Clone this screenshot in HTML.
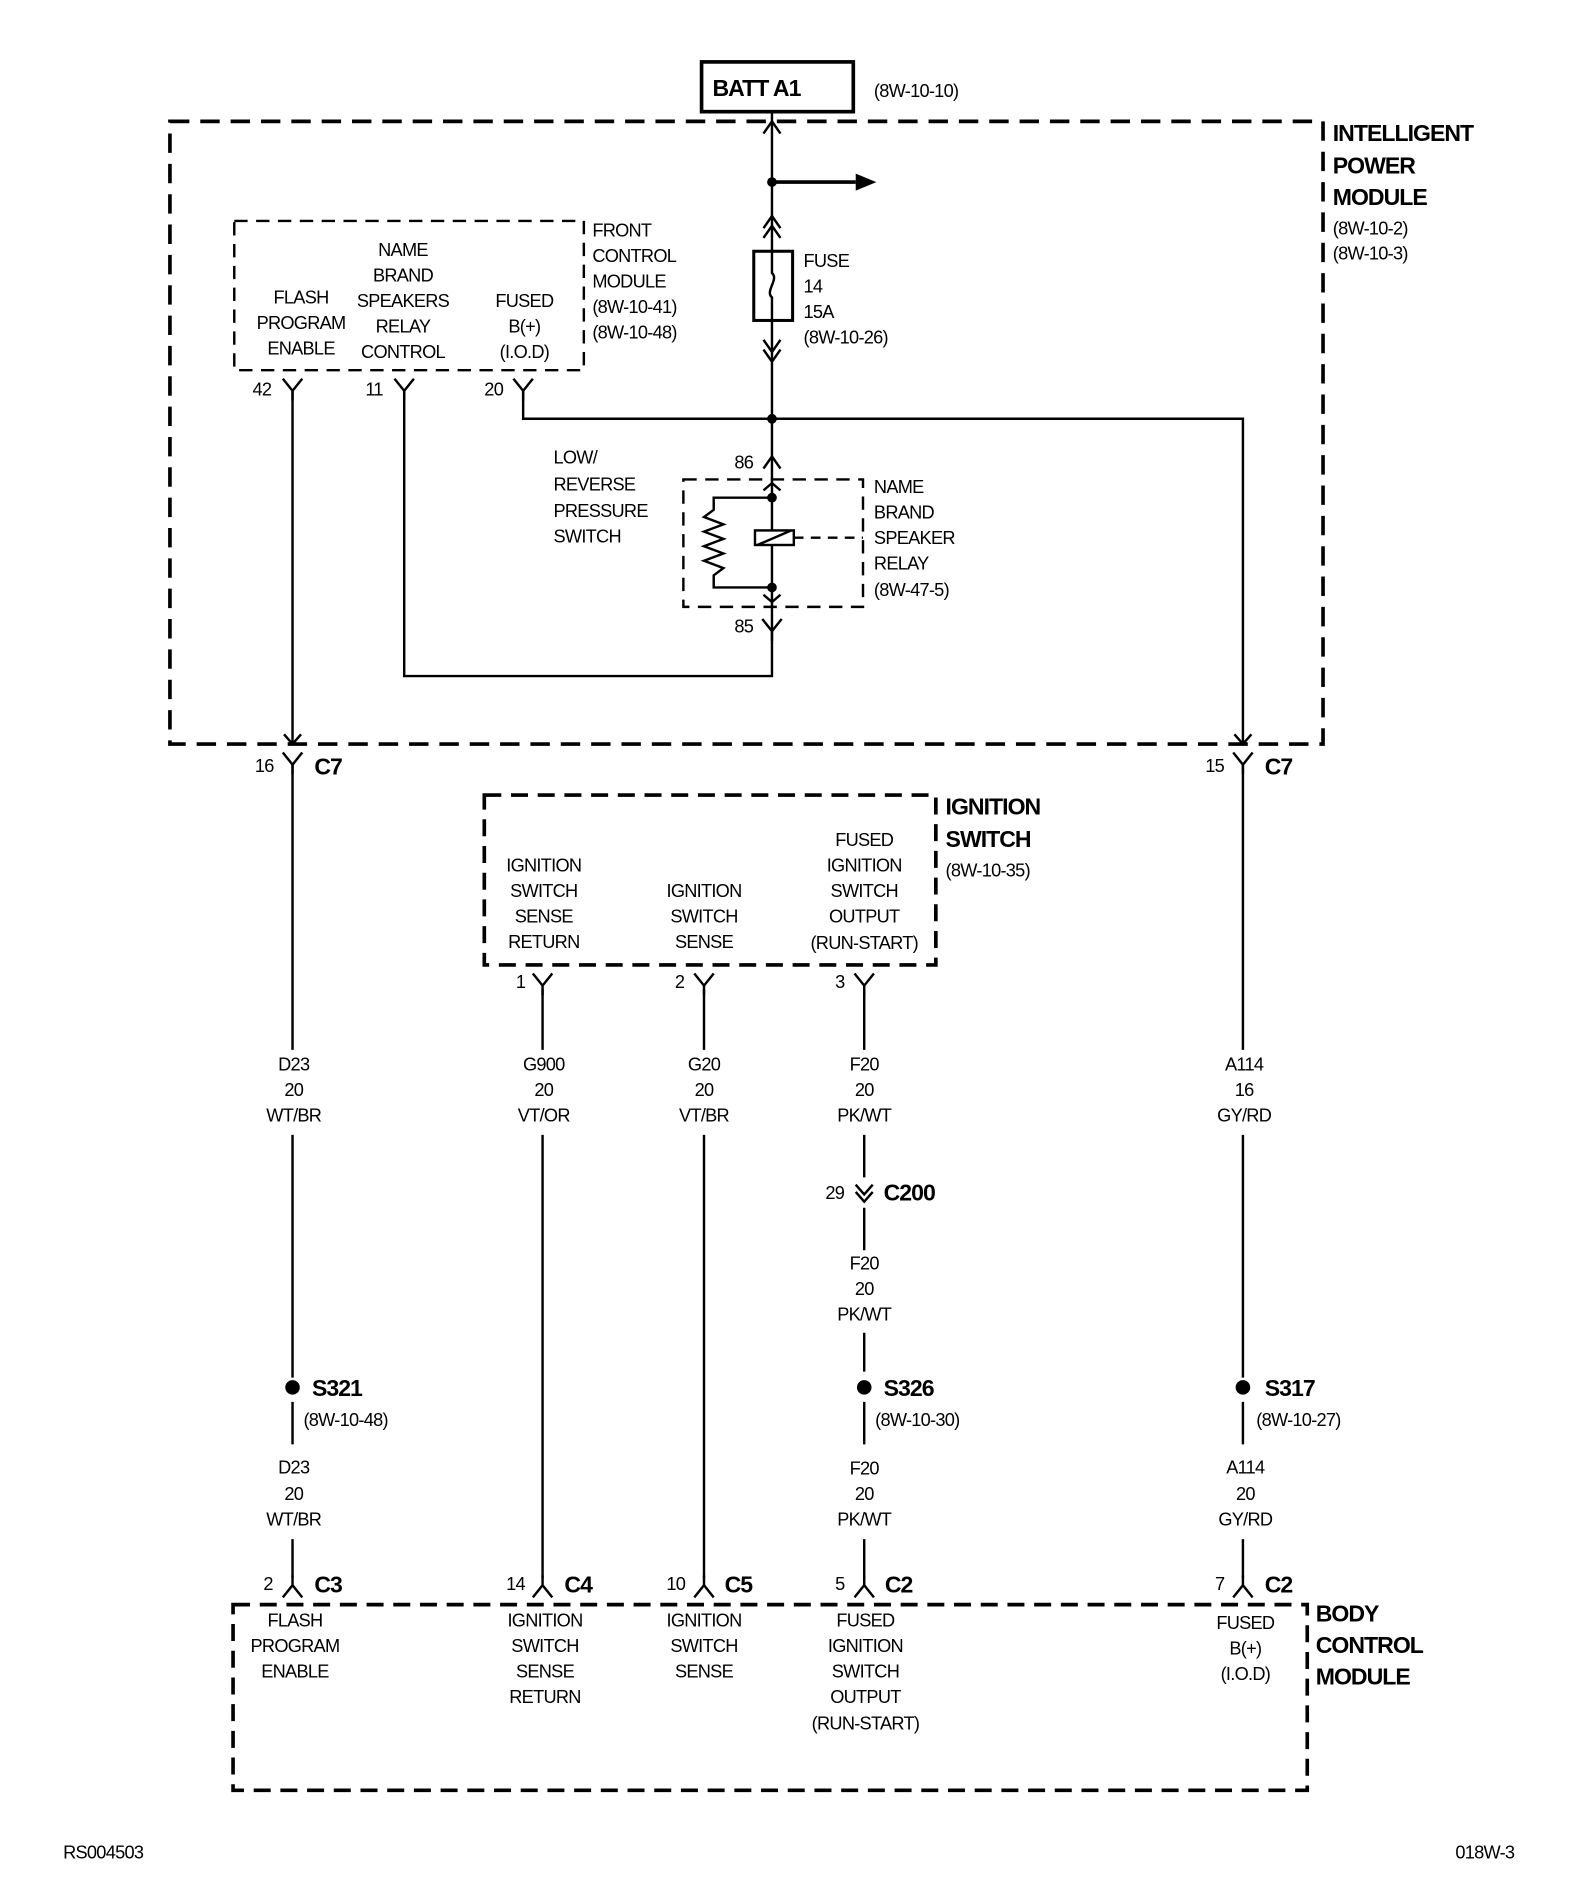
<!DOCTYPE html>
<html><head><meta charset="utf-8"><style>
html,body{margin:0;padding:0;background:#fff}
svg{display:block}
text{font-family:"Liberation Sans",sans-serif;font-size:15px;letter-spacing:-0.6px;fill:#000}
.b{font-weight:bold;font-size:19px;letter-spacing:-0.8px}
.c{text-anchor:middle}
</style></head><body>
<svg width="1584" height="1902" viewBox="0 0 1305 1567" xmlns="http://www.w3.org/2000/svg">
<defs>
<g id="Y"><path d="M-8,-6 L0,4 L8,-6 M0,4 V12" fill="none" stroke="#000" stroke-width="2"/></g>
<g id="A"><path d="M-8,6 L0,-4 L8,6 M0,-4 V-12" fill="none" stroke="#000" stroke-width="2"/></g>
</defs>
<g fill="none" stroke="#000">
<rect x="578" y="51" width="125" height="41" stroke-width="3"/>
<rect x="140" y="100" width="950" height="513" stroke-width="3" stroke-dasharray="16 9"/>
<rect x="193" y="182" width="288" height="123" stroke-width="2" stroke-dasharray="11 7"/>
<rect x="563" y="395" width="148" height="105" stroke-width="2" stroke-dasharray="11 7"/>
<rect x="399" y="655" width="372" height="140" stroke-width="3" stroke-dasharray="14 8"/>
<rect x="192" y="1322" width="885" height="153" stroke-width="3" stroke-dasharray="14 8"/>
<g stroke-width="2">
<path d="M636,92 V557 H333 V322"/>
<path d="M629,110 L636,100 L643,110"/>
<path d="M636,150 H705" stroke-width="3"/>
<path d="M629,188 L636,178 L643,188 M629,196 L636,186 L643,196"/>
<rect x="621" y="207" width="32" height="57" stroke-width="2.5" fill="#fff"/>
<path d="M636,207 V225 C642,230 630,240 636,245 V264"/>
<path d="M629,280 L636,290 L643,280 M629,288 L636,298 L643,288"/>
<path d="M431,322 V345 H1024 V613"/>
<path d="M629,386 L636,376 L643,386"/>
<path d="M629,404 L636,398 L643,404"/>
<path d="M636,410 H588 V420 L580,426 L596,432 L580,438 L596,444 L580,450 L596,456 L580,462 L596,468 L588,474 V484 H636"/>
<path d="M629,490 L636,496 L643,490"/>
<rect x="622" y="437" width="32" height="12" fill="#fff"/>
<path d="M624,449 L652,437"/>
<path d="M654,443 H711" stroke-dasharray="8 6"/>
<path d="M241,322 V613 M234,605 L241,613 L248,605"/>
<path d="M1017,605 L1024,613 L1031,605"/>
<path d="M241,630 V865 M241,935 V1135 M241,1155 V1190 M241,1268 V1300"/>
<path d="M447,815 V865 M447,935 V1300"/>
<path d="M580,815 V865 M580,935 V1300"/>
<path d="M712,815 V865 M712,935 V970 M712,995 V1030 M712,1098 V1130 M712,1155 V1190 M712,1268 V1300"/>
<path d="M705,976 L712,984 L719,976 M705,982 L712,990 L719,982"/>
<path d="M1024,630 V865 M1024,935 V1135 M1024,1155 V1190 M1024,1268 V1300"/>
</g>
</g>
<path d="M705,143 L722,150 L705,157 Z"/>
<circle cx="636" cy="150" r="4"/><circle cx="636" cy="345" r="4"/>
<circle cx="636" cy="410" r="4"/><circle cx="636" cy="484" r="4"/>
<circle cx="241" cy="1143" r="6"/><circle cx="712" cy="1143" r="6"/><circle cx="1024" cy="1143" r="6"/>
<use href="#Y" x="241" y="318"/><use href="#Y" x="333" y="318"/><use href="#Y" x="431" y="318"/>
<use href="#Y" x="636" y="516"/>
<use href="#Y" x="241" y="626"/><use href="#Y" x="1024" y="626"/>
<use href="#Y" x="447" y="808"/><use href="#Y" x="580" y="808"/><use href="#Y" x="712" y="808"/>
<use href="#A" x="241" y="1310"/><use href="#A" x="447" y="1310"/><use href="#A" x="580" y="1310"/><use href="#A" x="712" y="1310"/><use href="#A" x="1024" y="1310"/>

<text class="b" x="587" y="79">BATT A1</text>
<text x="720" y="80">(8W-10-10)</text>
<text class="b" x="1098" y="116">INTELLIGENT</text>
<text class="b" x="1098" y="143">POWER</text>
<text class="b" x="1098" y="169">MODULE</text>
<text x="1098" y="193">(8W-10-2)</text>
<text x="1098" y="214">(8W-10-3)</text>
<text x="662" y="220">FUSE</text><text x="662" y="241">14</text><text x="662" y="262">15A</text><text x="662" y="283">(8W-10-26)</text>
<text class="c" x="248" y="250">FLASH</text><text class="c" x="248" y="271">PROGRAM</text><text class="c" x="248" y="292">ENABLE</text>
<text class="c" x="332" y="211">NAME</text><text class="c" x="332" y="232">BRAND</text><text class="c" x="332" y="253">SPEAKERS</text><text class="c" x="332" y="274">RELAY</text><text class="c" x="332" y="295">CONTROL</text>
<text class="c" x="432" y="253">FUSED</text><text class="c" x="432" y="274">B(+)</text><text class="c" x="432" y="295">(I.O.D)</text>
<text x="488" y="195">FRONT</text><text x="488" y="216">CONTROL</text><text x="488" y="237">MODULE</text><text x="488" y="258">(8W-10-41)</text><text x="488" y="279">(8W-10-48)</text>
<text x="208" y="326">42</text><text x="301" y="326">11</text><text x="399" y="326">20</text>
<text x="605" y="386">86</text><text x="605" y="521">85</text>
<text x="456" y="382">LOW/</text><text x="456" y="404">REVERSE</text><text x="456" y="426">PRESSURE</text><text x="456" y="447">SWITCH</text>
<text x="720" y="406">NAME</text><text x="720" y="427">BRAND</text><text x="720" y="448">SPEAKER</text><text x="720" y="469">RELAY</text><text x="720" y="491">(8W-47-5)</text>
<text x="210" y="636">16</text><text class="b" x="259" y="638">C7</text>
<text x="993" y="636">15</text><text class="b" x="1042" y="638">C7</text>
<text class="b" x="779" y="671">IGNITION</text><text class="b" x="779" y="698">SWITCH</text><text x="779" y="722">(8W-10-35)</text>
<text class="c" x="448" y="718">IGNITION</text><text class="c" x="448" y="739">SWITCH</text><text class="c" x="448" y="760">SENSE</text><text class="c" x="448" y="781">RETURN</text>
<text class="c" x="580" y="739">IGNITION</text><text class="c" x="580" y="760">SWITCH</text><text class="c" x="580" y="781">SENSE</text>
<text class="c" x="712" y="697">FUSED</text><text class="c" x="712" y="718">IGNITION</text><text class="c" x="712" y="739">SWITCH</text><text class="c" x="712" y="760">OUTPUT</text><text class="c" x="712" y="782">(RUN-START)</text>
<text x="425" y="814">1</text><text x="556" y="814">2</text><text x="688" y="814">3</text>
<text class="c" x="242" y="882">D23</text><text class="c" x="242" y="903">20</text><text class="c" x="242" y="924">WT/BR</text>
<text class="c" x="448" y="882">G900</text><text class="c" x="448" y="903">20</text><text class="c" x="448" y="924">VT/OR</text>
<text class="c" x="580" y="882">G20</text><text class="c" x="580" y="903">20</text><text class="c" x="580" y="924">VT/BR</text>
<text class="c" x="712" y="882">F20</text><text class="c" x="712" y="903">20</text><text class="c" x="712" y="924">PK/WT</text>
<text class="c" x="1025" y="882">A114</text><text class="c" x="1025" y="903">16</text><text class="c" x="1025" y="924">GY/RD</text>
<text x="680" y="988">29</text><text class="b" x="728" y="989">C200</text>
<text class="c" x="712" y="1046">F20</text><text class="c" x="712" y="1067">20</text><text class="c" x="712" y="1088">PK/WT</text>
<text class="b" x="257" y="1150">S321</text><text x="250" y="1175">(8W-10-48)</text>
<text class="b" x="728" y="1150">S326</text><text x="721" y="1175">(8W-10-30)</text>
<text class="b" x="1042" y="1150">S317</text><text x="1035" y="1175">(8W-10-27)</text>
<text class="c" x="242" y="1214">D23</text><text class="c" x="242" y="1236">20</text><text class="c" x="242" y="1257">WT/BR</text>
<text class="c" x="712" y="1215">F20</text><text class="c" x="712" y="1236">20</text><text class="c" x="712" y="1257">PK/WT</text>
<text class="c" x="1026" y="1214">A114</text><text class="c" x="1026" y="1236">20</text><text class="c" x="1026" y="1257">GY/RD</text>
<text x="217" y="1310">2</text><text class="b" x="259" y="1312">C3</text>
<text x="417" y="1310">14</text><text class="b" x="465" y="1312">C4</text>
<text x="549" y="1310">10</text><text class="b" x="597" y="1312">C5</text>
<text x="688" y="1310">5</text><text class="b" x="729" y="1312">C2</text>
<text x="1001" y="1310">7</text><text class="b" x="1042" y="1312">C2</text>
<text class="b" x="1084" y="1336">BODY</text><text class="b" x="1084" y="1362">CONTROL</text><text class="b" x="1084" y="1388">MODULE</text>
<text class="c" x="243" y="1340">FLASH</text><text class="c" x="243" y="1361">PROGRAM</text><text class="c" x="243" y="1382">ENABLE</text>
<text class="c" x="449" y="1340">IGNITION</text><text class="c" x="449" y="1361">SWITCH</text><text class="c" x="449" y="1382">SENSE</text><text class="c" x="449" y="1403">RETURN</text>
<text class="c" x="580" y="1340">IGNITION</text><text class="c" x="580" y="1361">SWITCH</text><text class="c" x="580" y="1382">SENSE</text>
<text class="c" x="713" y="1340">FUSED</text><text class="c" x="713" y="1361">IGNITION</text><text class="c" x="713" y="1382">SWITCH</text><text class="c" x="713" y="1403">OUTPUT</text><text class="c" x="713" y="1425">(RUN-START)</text>
<text class="c" x="1026" y="1342">FUSED</text><text class="c" x="1026" y="1363">B(+)</text><text class="c" x="1026" y="1384">(I.O.D)</text>
<text x="52" y="1531">RS004503</text>
<text x="1199" y="1531">018W-3</text>
</svg>
</body></html>
